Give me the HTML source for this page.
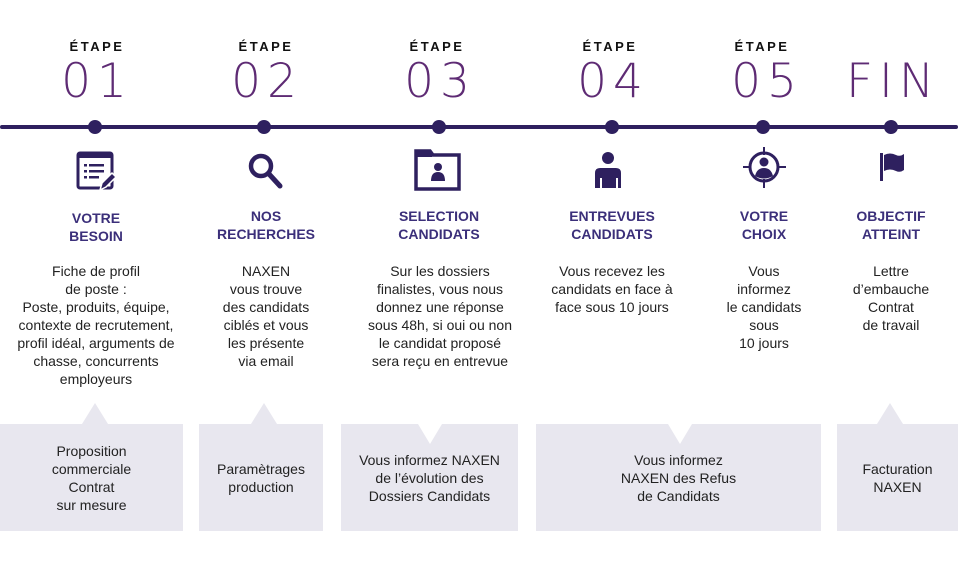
<!DOCTYPE html>
<html><head><meta charset="utf-8"><style>
body{margin:0;width:958px;height:570px;background:#fff;position:relative;overflow:hidden;font-family:"Liberation Sans","DejaVu Sans",sans-serif}
.c{position:absolute;text-align:center;transform:translateX(-50%);white-space:nowrap}
.et{top:39px;font-size:13px;font-weight:bold;letter-spacing:2.5px;color:#111}
.num{top:54px;font-family:"DejaVu Sans ExtraLight","DejaVu Sans",sans-serif;font-size:47px;letter-spacing:6px;color:#5e2b74;font-weight:200;line-height:56px;padding-left:6px}
.h{top:208px;font-size:14px;font-weight:bold;color:#3b2f7a;line-height:18px}
.t{top:262px;font-size:14px;color:#222;line-height:18px}
.box{position:absolute;top:424px;height:107px;background:#e8e7ef;display:flex;align-items:center;justify-content:center;text-align:center;font-size:14px;line-height:18px;color:#222}
.dot{position:absolute;top:120px;width:14px;height:14px;border-radius:50%;background:#2e205f;margin-left:-7px}
</style></head><body>
<div style="position:absolute;left:0;top:125px;width:958px;height:4px;background:#2e205f;border-radius:2px"></div>
<div class="dot" style="left:95px"></div><div class="dot" style="left:264px"></div><div class="dot" style="left:439px"></div><div class="dot" style="left:612px"></div><div class="dot" style="left:763px"></div><div class="dot" style="left:891px"></div>

<div class="c et" style="left:97px">ÉTAPE</div><div class="c et" style="left:266px">ÉTAPE</div><div class="c et" style="left:437px">ÉTAPE</div><div class="c et" style="left:610px">ÉTAPE</div><div class="c et" style="left:762px">ÉTAPE</div>
<div class="c num" style="left:94px">01</div><div class="c num" style="left:264px">02</div><div class="c num" style="left:437px">03</div><div class="c num" style="left:610px">04</div><div class="c num" style="left:764px">05</div><div class="c num" style="left:890px">FIN</div>

<svg style="position:absolute;left:0;top:0" width="958" height="200">
<g fill="#2e205f" stroke="#2e205f">
<rect x="78" y="153" width="34" height="35" rx="2" fill="none" stroke-width="3"/>
<rect x="78" y="153" width="34" height="5" stroke="none"/>
<g stroke="none"><rect x="84" y="164" width="3" height="2.5"/><rect x="89" y="164" width="15" height="2.5"/><rect x="84" y="170" width="3" height="2.5"/><rect x="89" y="170" width="15" height="2.5"/><rect x="84" y="176" width="3" height="2.5"/><rect x="89" y="176" width="10" height="2.5"/></g>
<path d="M100 190 L102 183 L112 173 L116 177 L106 187 Z" stroke="#fff" stroke-width="1.5"/>
<circle cx="261" cy="166" r="10" fill="none" stroke-width="4.5"/>
<line x1="269" y1="174" x2="280" y2="186" stroke-width="5" stroke-linecap="round"/>
<path d="M416 151 h14 l3 4 h26 v34 h-43 z" fill="none" stroke-width="3.5"/>
<rect x="416" y="151" width="16" height="6" stroke="none"/>
<circle cx="438" cy="167" r="4" stroke="none"/><path d="M431 181 q0-9 7-9 q7 0 7 9 z" stroke="none"/>
<circle cx="608" cy="158" r="6" stroke="none"/>
<path d="M595 188 v-15 q0-5 5-5 h16 q5 0 5 5 v15 h-3 v-10 h-2 v10 h-14 v-10 h-2 v10 z" stroke="none"/>
<circle cx="764" cy="167" r="14" fill="none" stroke-width="3"/>
<line x1="764" y1="147" x2="764" y2="155" stroke-width="2"/><line x1="764" y1="179" x2="764" y2="188" stroke-width="2"/><line x1="743" y1="167" x2="751" y2="167" stroke-width="2"/><line x1="777" y1="167" x2="786" y2="167" stroke-width="2"/>
<circle cx="764" cy="162" r="4.5" stroke="none"/><path d="M755 176 q2-8 9-8 q7 0 9 8 q-9 5 -18 0z" stroke="none"/>
<rect x="880" y="153" width="3" height="28" stroke="none"/>
<path d="M884 155 q6-3 12 0 q4 2 8-1 v16 q-4 3 -8 1 q-6-3 -12 0 z" stroke="none"/>
</g></svg>

<div class="c h" style="left:96px;top:209px">VOTRE<br>BESOIN</div>
<div class="c h" style="left:266px;top:207px">NOS<br>RECHERCHES</div>
<div class="c h" style="left:439px;top:207px">SELECTION<br>CANDIDATS</div>
<div class="c h" style="left:612px;top:207px">ENTREVUES<br>CANDIDATS</div>
<div class="c h" style="left:764px;top:207px">VOTRE<br>CHOIX</div>
<div class="c h" style="left:891px;top:207px">OBJECTIF<br>ATTEINT</div>

<div class="c t" style="left:96px">Fiche de profil<br>de poste :<br>Poste, produits, équipe,<br>contexte de recrutement,<br>profil idéal, arguments de<br>chasse, concurrents<br>employeurs</div>
<div class="c t" style="left:266px">NAXEN<br>vous trouve<br>des candidats<br>ciblés et vous<br>les présente<br>via email</div>
<div class="c t" style="left:440px">Sur les dossiers<br>finalistes, vous nous<br>donnez une réponse<br>sous 48h, si oui ou non<br>le candidat proposé<br>sera reçu en entrevue</div>
<div class="c t" style="left:612px">Vous recevez les<br>candidats en face à<br>face sous 10 jours</div>
<div class="c t" style="left:764px">Vous<br>informez<br>le candidats<br>sous<br>10 jours</div>
<div class="c t" style="left:891px">Lettre<br>d’embauche<br>Contrat<br>de travail</div>

<div class="box" style="left:0;width:183px">Proposition<br>commerciale<br>Contrat<br>sur mesure</div>
<div class="box" style="left:199px;width:124px">Paramètrages<br>production</div>
<div class="box" style="left:341px;width:177px">Vous informez NAXEN<br>de l’évolution des<br>Dossiers Candidats</div>
<div class="box" style="left:536px;width:285px">Vous informez<br>NAXEN des Refus<br>de Candidats</div>
<div class="box" style="left:837px;width:121px">Facturation<br>NAXEN</div>
<svg style="position:absolute;left:0;top:400px" width="958" height="50">
<polygon points="82,24 95,3 108,24" fill="#e8e7ef"/>
<polygon points="251,24 264,3 277,24" fill="#e8e7ef"/>
<polygon points="877,24 890,3 903,24" fill="#e8e7ef"/>
<polygon points="418,24 442,24 430,44" fill="#fff"/>
<polygon points="668,24 692,24 680,44" fill="#fff"/>
</svg>
</body></html>
